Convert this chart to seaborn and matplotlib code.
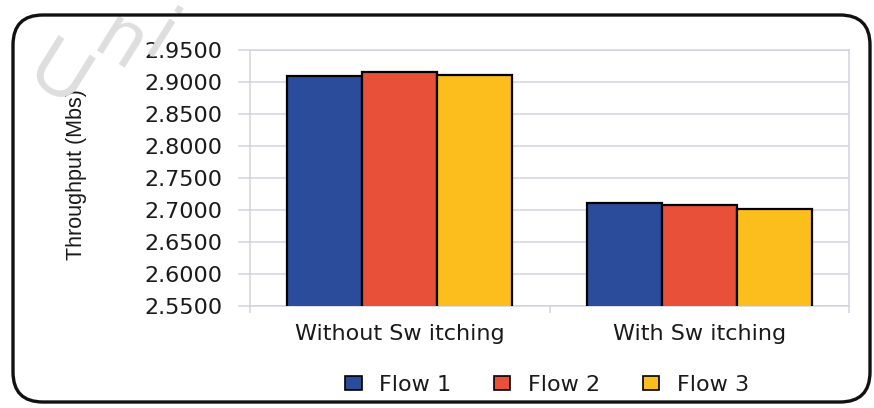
import matplotlib
matplotlib.use("Agg")
import matplotlib.pyplot as plt
from matplotlib.patches import FancyBboxPatch, Patch
from matplotlib.ticker import FormatStrFormatter, FixedLocator
import seaborn as sns
import pandas as pd

# Throughput per flow, with and without switching
categories = ["Without Sw itching", "With Sw itching"]
flows = ["Flow 1", "Flow 2", "Flow 3"]
flow1 = [2.909, 2.711]
flow2 = [2.916, 2.708]
flow3 = [2.911, 2.701]
yticks = [2.55, 2.60, 2.65, 2.70, 2.75, 2.80, 2.85, 2.90, 2.95]
colors = ["#2B4C9B", "#E9503A", "#FCBE1C"]

df = pd.DataFrame({
    "category": categories * 3,
    "flow": [f for f in flows for _ in categories],
    "throughput": flow1 + flow2 + flow3,
})

sns.set_theme(style="white")
plt.rcParams["font.family"] = ["DejaVu Sans"]

W, H = 874, 408
fig = plt.figure(figsize=(W / 100, H / 100), dpi=100)
ax = fig.add_axes([250 / W, 1 - 306 / H, 599 / W, 256 / H])

sns.barplot(data=df, x="category", y="throughput", hue="flow",
            palette=colors, width=0.75, gap=0, edgecolor="black",
            linewidth=1.6, saturation=1, legend=False, ax=ax, zorder=3)

grid_c = "#D3D3DE"
text_c = "#1a1a1a"
ax.set_ylim(2.55, 2.95)
ax.set_xlim(-0.5, 1.5)
ax.yaxis.set_major_locator(FixedLocator(yticks))
ax.yaxis.set_major_formatter(FormatStrFormatter("%.4f"))
ax.grid(axis="y", color=grid_c, linewidth=1.1, zorder=0)
ax.set_axisbelow(True)
for s in ax.spines.values():
    s.set_color(grid_c)
    s.set_linewidth(1.1)

ax.tick_params(axis="y", which="major", length=8.6, width=1.1, color=grid_c,
               pad=11, labelsize=16, labelcolor=text_c, left=True)
ax.tick_params(axis="x", which="major", length=0, pad=13, labelsize=16,
               labelcolor=text_c)
ax.xaxis.set_minor_locator(FixedLocator([-0.5, 0.5, 1.5]))
ax.tick_params(axis="x", which="minor", length=5, width=1.1, color=grid_c,
               bottom=True)

ax.set_xlabel("")
ax.set_ylabel("Throughput (Mbs)", fontsize=15.5, family="Liberation Sans",
              color=text_c)
ax.yaxis.set_label_coords(-0.272, 0.515)

handles = [Patch(facecolor=c, edgecolor="black", linewidth=1.2) for c in colors]
fig.legend(handles, flows, loc="center", bbox_to_anchor=(547 / W, 1 - 385 / H),
           ncol=3, frameon=False, fontsize=16, handlelength=0.75,
           handleheight=0.56, handletextpad=0.8, columnspacing=1.9,
           labelcolor=text_c)

# rounded frame around the chart
frame = FancyBboxPatch((0.13, 0.06), 8.57, 3.87,
                       boxstyle="round,pad=0,rounding_size=0.3",
                       transform=fig.dpi_scale_trans, facecolor="none",
                       edgecolor="#111111", linewidth=2.4, zorder=10)
fig.patches.append(frame)

# slanted page watermark, one glyph at a time
for ch, (px, py), fs in [("U", (58, 78), 56), ("n", (120, 44), 56),
                         ("i", (160, 40), 56)]:
    fig.text(px / W, 1 - py / H, ch, rotation=-32, rotation_mode="anchor",
             ha="center", va="center", fontsize=fs, family="Liberation Sans",
             color="#DEDEDE", zorder=0)

fig.savefig("out.png", dpi=100)
